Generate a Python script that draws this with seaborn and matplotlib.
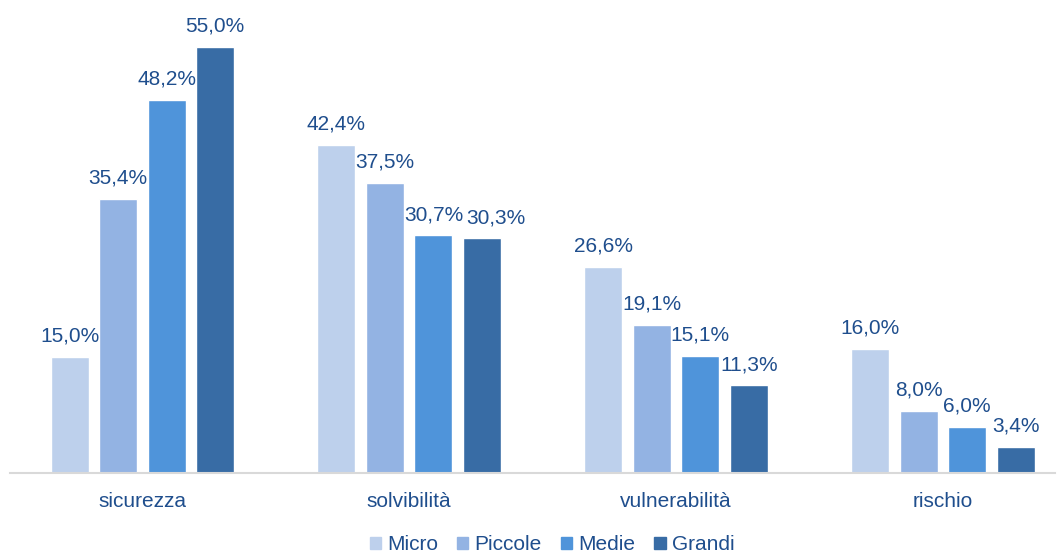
import pandas as pd
import matplotlib.pyplot as plt
import matplotlib.patches as mpatches
import seaborn as sns

# Data
categories = ["sicurezza", "solvibilità", "vulnerabilità", "rischio"]
sizes = ["Micro", "Piccole", "Medie", "Grandi"]
micro = [15.0, 42.4, 26.6, 16.0]
piccole = [35.4, 37.5, 19.1, 8.0]
medie = [48.2, 30.7, 15.1, 6.0]
grandi = [55.0, 30.3, 11.3, 3.4]

COLORS = ["#BDD0EC", "#93B3E3", "#4F94DA", "#386CA5"]
TEXT = "#1F4E8D"

rows = []
for size, vals in zip(sizes, [micro, piccole, medie, grandi]):
    for cat, v in zip(categories, vals):
        rows.append({"categoria": cat, "dimensione": size, "valore": v})
df = pd.DataFrame(rows)

sns.set_style("white")
plt.rcParams["font.family"] = ["Liberation Sans", "DejaVu Sans"]

fig = plt.figure(figsize=(10.61, 5.55), dpi=100)
ax = fig.add_axes([10 / 1061, 82 / 555, 1045 / 1061, 473 / 555])

sns.barplot(data=df, x="categoria", y="valore", hue="dimensione",
            order=categories, hue_order=sizes, palette=COLORS,
            width=0.727, gap=0.216, saturation=1, legend=False, ax=ax)

# value labels, Italian decimal comma
for h, cont in enumerate(ax.containers):
    labels = [f"{b.get_height():.1f}%".replace(".", ",") for b in cont]
    texts = ax.bar_label(cont, labels=labels, padding=8, color=TEXT, fontsize=15)
    if h == 3:
        # nudge "30,3%" right so it clears "30,7%"
        texts[1].xyann = (10, 8)

ax.set_xlim(-0.496, 3.42)
ax.set_ylim(0, 61.07)
ax.set_xlabel("")
ax.set_ylabel("")
ax.set_yticks([])
ax.tick_params(axis="x", length=0, pad=14, labelsize=15, labelcolor=TEXT)
for s in ["top", "right", "left"]:
    ax.spines[s].set_visible(False)
ax.spines["bottom"].set_color("#D9D9D9")
ax.spines["bottom"].set_linewidth(1.5)

handles = [mpatches.Patch(color=c, label=s) for c, s in zip(COLORS, sizes)]
fig.legend(handles=handles, loc="center", bbox_to_anchor=(552 / 1061, 1 - 545 / 555),
           ncol=4, frameon=False, fontsize=15, labelcolor=TEXT,
           handlelength=0.55, handleheight=0.55, handletextpad=0.3,
           columnspacing=0.9, borderaxespad=0)

fig.savefig("out.png", dpi=100)
